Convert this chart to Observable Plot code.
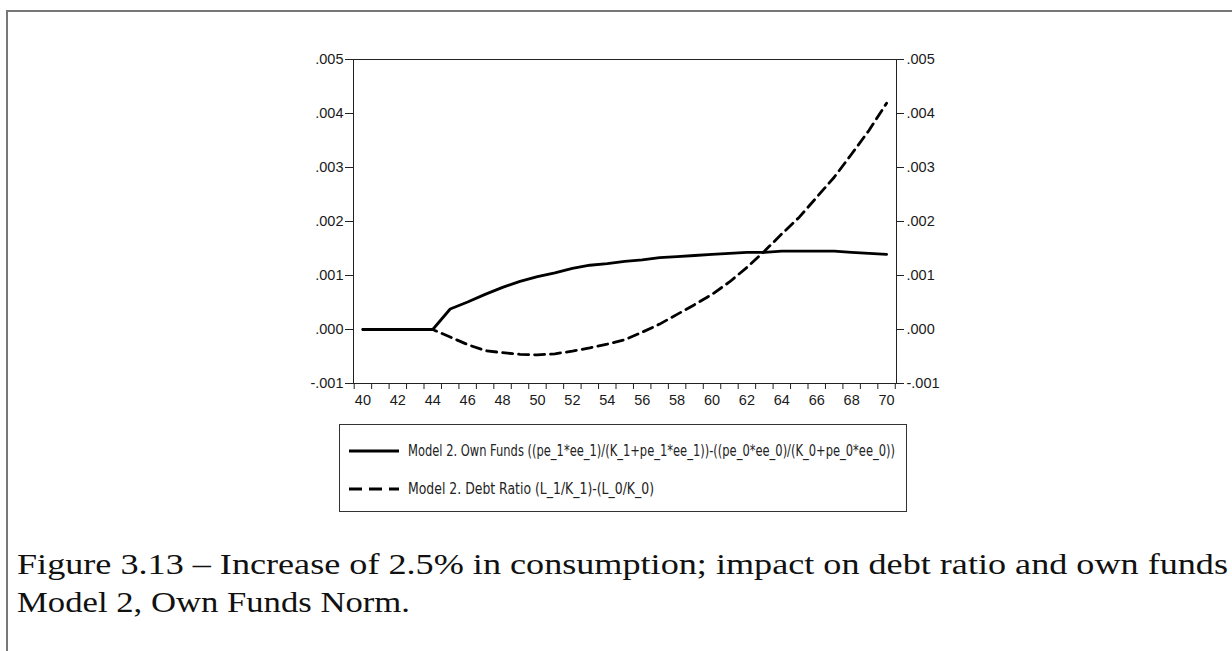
<!DOCTYPE html>
<html>
<head>
<meta charset="utf-8">
<script src="https://cdn.jsdelivr.net/npm/d3@7"></script>
<script src="https://cdn.jsdelivr.net/npm/@observablehq/plot@0.6"></script>
<style>
  html, body { margin: 0; padding: 0; background: #fff; }
  #wrap { position: relative; width: 1232px; height: 651px; overflow: hidden; background: #fff; }
  #border { position: absolute; left: 6px; top: 10px; width: 1300px; height: 800px; border: 2px solid #777; box-sizing: border-box; }
  #chart { position: absolute; left: 0; top: 0; }
  #chart svg text { font-family: "Liberation Sans", Arial, sans-serif !important; font-size: 14.5px !important; fill: #1a1a1a; }
  #legend, #caption { position: absolute; left: 0; top: 0; }
</style>
</head>
<body>
<div id="wrap">
  <div id="border"></div>
  <div id="chart"></div>
  <svg id="legend" width="1232" height="651"></svg>
  <svg id="caption" width="1232" height="651"></svg>
</div>
<script>
// ---- data ----
const years = [40,41,42,43,44,45,46,47,48,49,50,51,52,53,54,55,56,57,58,59,60,61,62,63,64,65,66,67,68,69,70];
const ownFunds = [0,0,0,0,0,0.00038,0.00051,0.00065,0.00078,0.00089,0.00098,0.00105,0.00113,0.00119,0.00122,0.00126,0.00129,0.00133,0.00135,0.00137,0.00139,0.00141,0.00143,0.00143,0.00145,0.00145,0.00145,0.00145,0.00143,0.00141,0.00139];
const debtRatio = [0,0,0,0,0,-0.00014,-0.00028,-0.00039,-0.00043,-0.00046,-0.00047,-0.00045,-0.0004,-0.00034,-0.00027,-0.00019,-0.00005,0.0001,0.00028,0.00046,0.00065,0.00088,0.00115,0.00145,0.00177,0.00208,0.00245,0.00282,0.00325,0.00369,0.00419];
const yTicks = [-0.001,0,0.001,0.002,0.003,0.004,0.005];
const xLabelTicks = [40,42,44,46,48,50,52,54,56,58,60,62,64,66,68,70];
const xMinorTicks = [39.5,40.5,41.5,42.5,43.5,44.5,45.5,46.5,47.5,48.5,49.5,50.5,51.5,52.5,53.5,54.5,55.5,56.5,57.5,58.5,59.5,60.5,61.5,62.5,63.5,64.5,65.5,66.5,67.5,68.5,69.5,70.5];
const seriesNames = [
  "Model 2. Own Funds ((pe_1*ee_1)/(K_1+pe_1*ee_1))-((pe_0*ee_0)/(K_0+pe_0*ee_0))",
  "Model 2. Debt Ratio (L_1/K_1)-(L_0/K_0)"
];
const captionLines = [
  "Figure 3.13 – Increase of 2.5% in consumption; impact on debt ratio and own funds",
  "Model 2, Own Funds Norm."
];

const ownRows = years.map((x, i) => ({x, y: ownFunds[i]}));
const debtRows = years.map((x, i) => ({x, y: debtRatio[i]}));
const fmt = v => (v < 0 ? "-" : "") + Math.abs(v).toFixed(3).replace(/^0/, "");

const plot = Plot.plot({
  width: 1232,
  height: 420,
  marginLeft: 353,
  marginRight: 336,
  marginTop: 59,
  marginBottom: 37,
  style: {background: "transparent", color: "#222"},
  x: {domain: [39.46, 70.57]},
  y: {domain: [-0.001, 0.005]},
  marks: [
    Plot.frame({stroke: "#222"}),
    Plot.axisY({anchor: "left", ticks: yTicks, tickFormat: fmt, tickSize: 8, tickPadding: 2, label: null}),
    Plot.axisY({anchor: "right", ticks: yTicks, tickFormat: fmt, tickSize: 7, tickPadding: 3, label: null}),
    Plot.axisX({anchor: "bottom", ticks: xMinorTicks, tickFormat: () => "", tickSize: 6, label: null}),
    Plot.axisX({anchor: "bottom", ticks: xLabelTicks, tickFormat: d => String(d), tickSize: 0, tickPadding: 11, label: null}),
    Plot.line(ownRows, {x: "x", y: "y", stroke: "#000", strokeWidth: 2.8}),
    Plot.line(debtRows, {x: "x", y: "y", stroke: "#000", strokeWidth: 2.8, strokeDasharray: "10,6"})
  ]
});
document.getElementById("chart").appendChild(plot);

// ---- legend ----
const NS = "http://www.w3.org/2000/svg";
const lg = document.getElementById("legend");
function el(tag, attrs, parent) {
  const e = document.createElementNS(NS, tag);
  for (const k in attrs) e.setAttribute(k, attrs[k]);
  parent.appendChild(e);
  return e;
}
el("rect", {x: 339.5, y: 424.5, width: 567, height: 87, fill: "none", stroke: "#333", "stroke-width": 1}, lg);
const rowsY = [451, 489];
const textW = [487, 246];
seriesNames.forEach((name, i) => {
  el("line", {x1: 349, x2: 399, y1: rowsY[i], y2: rowsY[i], stroke: "#000", "stroke-width": 3,
              "stroke-dasharray": i === 1 ? "13,7" : "none"}, lg);
  const t = el("text", {x: 408, y: rowsY[i] + 5, "font-family": "'Liberation Sans Narrow', 'DejaVu Sans Condensed', 'Liberation Sans', sans-serif",
                        "font-size": 15, fill: "#222", textLength: textW[i], lengthAdjust: "spacingAndGlyphs"}, lg);
  t.textContent = name;
});

// ---- caption ----
const cp = document.getElementById("caption");
const capY = [574, 612];
const capW = [1211, 393];
captionLines.forEach((line, i) => {
  const t = el("text", {x: 17, y: capY[i], "font-family": "'Liberation Serif', 'DejaVu Serif', serif", "font-size": 29,
                        fill: "#111", textLength: capW[i], lengthAdjust: "spacingAndGlyphs"}, cp);
  t.textContent = line;
});
</script>
</body>
</html>
